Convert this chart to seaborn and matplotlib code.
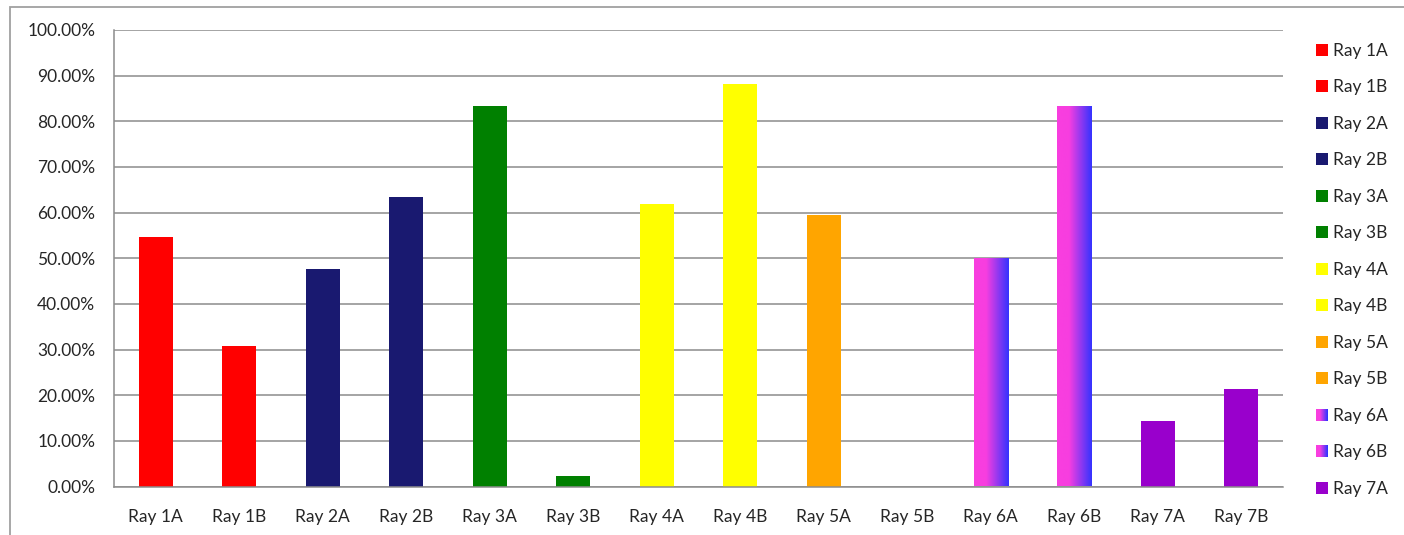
import numpy as np
import pandas as pd
import matplotlib
matplotlib.use('Agg')
import matplotlib.pyplot as plt
import seaborn as sns
from matplotlib.patches import Rectangle
from matplotlib.legend_handler import HandlerBase
from matplotlib.colors import LinearSegmentedColormap
from matplotlib.ticker import PercentFormatter, FixedLocator

# data
categories = ['Ray 1A', 'Ray 1B', 'Ray 2A', 'Ray 2B', 'Ray 3A', 'Ray 3B', 'Ray 4A',
              'Ray 4B', 'Ray 5A', 'Ray 5B', 'Ray 6A', 'Ray 6B', 'Ray 7A', 'Ray 7B']
values = [0.5455, 0.3077, 0.4762, 0.6346, 0.8333, 0.0238, 0.6190,
          0.8810, 0.5938, 0.0, 0.5000, 0.8333, 0.1429, 0.2143]
bar_colors = ['#FF0000', '#FF0000', '#191970', '#191970', '#008000', '#008000', '#FFFF00',
              '#FFFF00', '#FFA500', '#FFA500', '#F93EDF', '#F93EDF', '#9900CC', '#9900CC']
gradient_cats = ['Ray 6A', 'Ray 6B']
legend_labels = categories[:13]   # last entry is cut off in the original

grad_cmap = LinearSegmentedColormap.from_list(
    'pinkblue', [(0.0, '#F93EDF'), (0.35, '#F73EE0'), (1.0, '#3333FF')])

df = pd.DataFrame({'cat': categories, 'val': values})

sns.set_style('white')
plt.rcParams['font.family'] = ['Lato', 'DejaVu Sans']
fs = 12.5

fig = plt.figure(figsize=(14.04, 5.35), dpi=100)
ax = fig.add_axes([114 / 1404, 48.5 / 535, (1283 - 114) / 1404, (486.5 - 30) / 535])

palette = dict(zip(categories, bar_colors))
sns.barplot(data=df, x='cat', y='val', hue='cat', palette=palette, width=0.41,
            legend=False, saturation=1, ax=ax, zorder=3, linewidth=0, edgecolor='none')

# gradient fill for the 6A / 6B bars
grad = np.linspace(0, 1, 256).reshape(1, -1)
for p in list(ax.patches):
    idx = int(round(p.get_x() + p.get_width() / 2))
    if p.get_height() == 0:
        p.set_visible(False)
    if categories[idx] in gradient_cats:
        x0, w = p.get_x(), p.get_width()
        y0, h = p.get_y(), p.get_height()
        im = ax.imshow(grad, extent=[x0, x0 + w, y0, y0 + h], aspect='auto',
                       cmap=grad_cmap, zorder=3.5, interpolation='bilinear')
        im.set_clip_path(p)
        p.set_facecolor('none')

ax.set_xlim(-0.5, 13.5)
ax.set_ylim(0, 1)
ax.set_xlabel('')
ax.set_ylabel('')

grid_c = '#8C8C8C'
ax.yaxis.set_major_locator(FixedLocator(np.arange(0, 1.01, 0.1)))
ax.yaxis.set_major_formatter(PercentFormatter(1, decimals=2))
ax.grid(axis='y', color=grid_c, lw=1.1, zorder=0)
ax.set_axisbelow(True)

ax.xaxis.set_minor_locator(FixedLocator(np.arange(-0.5, 14, 1)))
ax.tick_params(axis='x', which='major', length=0, pad=16, labelsize=fs)
ax.tick_params(axis='x', which='minor', length=4.5, width=1, color=grid_c, direction='out')
ax.tick_params(axis='y', length=4.5, width=1, color=grid_c, pad=9, labelsize=fs)

for s in ['top', 'right']:
    ax.spines[s].set_visible(False)
for s in ['left', 'bottom']:
    ax.spines[s].set_color(grid_c)
    ax.spines[s].set_linewidth(1.1)
    ax.spines[s].set_zorder(4)


class GradientSquare(Rectangle):
    pass


class GradientHandler(HandlerBase):
    def create_artists(self, legend, orig_handle, xdescent, ydescent, width, height,
                       fontsize, trans):
        n = 24
        arts = []
        for i in range(n):
            r = Rectangle((-xdescent + width * i / n, -ydescent), width / n * 1.08, height,
                          facecolor=grad_cmap(i / (n - 1)), edgecolor='none', transform=trans)
            arts.append(r)
        return arts


handles = []
for lab in legend_labels:
    if lab in gradient_cats:
        handles.append(GradientSquare((0, 0), 1, 1))
    else:
        handles.append(Rectangle((0, 0), 1, 1, facecolor=palette[lab], edgecolor='none'))

fig.legend(handles, legend_labels, handler_map={GradientSquare: GradientHandler()},
           loc='upper left', bbox_to_anchor=(1316 / 1404, 1 - 43 / 535),
           frameon=False, fontsize=fs, handlelength=0.67, handleheight=0.67,
           handletextpad=0.33, labelspacing=1.18, borderpad=0, borderaxespad=0)

# outer chart border (cut at right and bottom like the original)
fig.patches.append(Rectangle((10 / 1404, -0.05), 1.1, 1 - 7 / 535 + 0.05,
                             transform=fig.transFigure, fill=False,
                             edgecolor='#A0A0A0', lw=1.3))

fig.savefig('out.png', dpi=100)
